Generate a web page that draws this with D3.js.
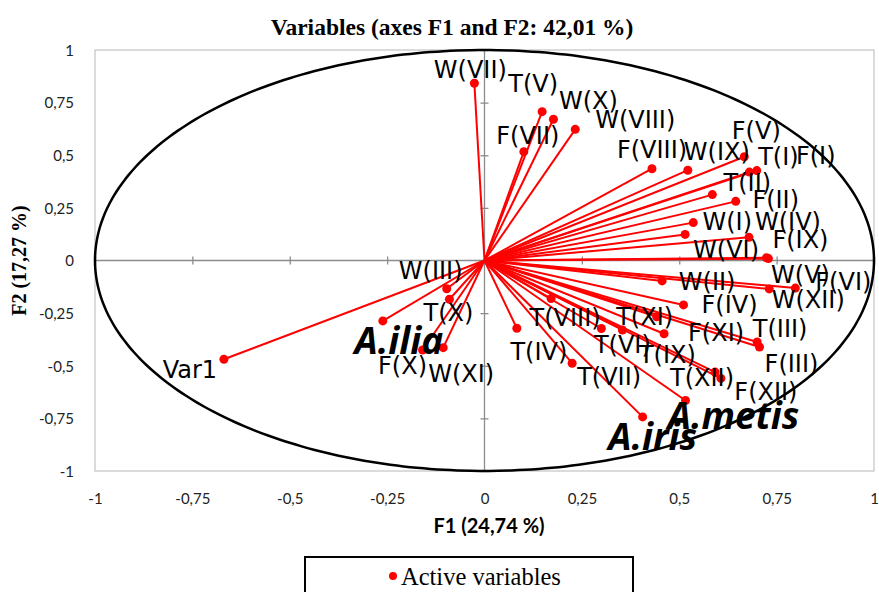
<!DOCTYPE html>
<html>
<head>
<meta charset="utf-8">
<script src="https://cdn.jsdelivr.net/npm/d3@7"></script>
<style>
  body { margin: 0; background: #fff; }
  svg { display: block; }
</style>
</head>
<body>
<svg id="chart" width="879" height="592"></svg>
<script>
// Correlation circle: active variables projected on F1 / F2
const names = [
  "W(VII)", "T(V)", "W(X)", "W(VIII)", "F(VII)", "F(VIII)", "W(IX)", "F(V)", "T(I)", "F(I)",
  "T(II)", "F(II)", "W(I)", "W(VI)", "W(IV)", "F(IX)", "W(V)", "W(II)", "W(XII)", "F(VI)",
  "F(IV)", "T(XI)", "F(XI)", "T(III)", "F(III)", "T(VIII)", "T(VI)", "T(IX)", "T(IV)", "T(VII)",
  "T(XII)", "F(XII)", "A.metis", "A.iris", "W(III)", "T(X)", "A.ilia", "Var1", "F(X)", "W(XI)"
];
const f1 = [
  -0.026, 0.148, 0.177, 0.233, 0.101, 0.430, 0.522, 0.667, 0.680, 0.699,
  0.585, 0.645, 0.536, 0.515, 0.679, 0.729, 0.724, 0.456, 0.731, 0.798,
  0.511, 0.442, 0.461, 0.700, 0.706, 0.171, 0.300, 0.354, 0.083, 0.225,
  0.592, 0.607, 0.516, 0.406, -0.097, -0.090, -0.261, -0.669, -0.159, -0.106
];
const f2 = [
  0.842, 0.707, 0.671, 0.623, 0.517, 0.436, 0.429, 0.493, 0.420, 0.427,
  0.313, 0.281, 0.180, 0.124, 0.110, 0.009, 0.013, -0.097, -0.135, -0.131,
  -0.211, -0.267, -0.348, -0.387, -0.411, -0.181, -0.323, -0.330, -0.322, -0.488,
  -0.530, -0.560, -0.665, -0.743, -0.134, -0.184, -0.287, -0.469, -0.425, -0.414
];
// Species names are set in bold italic
const species = ["A.metis", "A.iris", "A.ilia"];

// Label placement relative to each point (px)
const labelDx = [
  -4, -9, 35, 60, 4, 0, 29, 12, 29, 59,
  35, 40, 34, 41, 39, 32, 34, 45, 39, 48,
  46, -12, 52, 23, 32, 14, 21, 45, 22, 37,
  -13, 45, 48, 10, -16, -1, 16, -34, -20, 18
];
const labelDy = [
  -13, -28, -18, -9, -16, -19, -18, -26, -15, -15,
  -12, -1, -1, 16, -15, -19, 17, 1, 11, -6,
  0, 0, -1, -13, 17, 19, 17, 25, 24, 14,
  6, 14, 14, 19, -18, 14, 19, 11, 16, 26
];

const tickValues = [-1, -0.75, -0.5, -0.25, 0, 0.25, 0.5, 0.75, 1];
const titleText = "Variables (axes F1 and F2: 42,01 %)";
const xTitle = "F1 (24,74 %)";
const yTitle = "F2 (17,27 %)";
const legendText = "Active variables";

const svg = d3.select("#chart");
const plot = { left: 95, right: 874, top: 50, bottom: 471 };

const x = d3.scaleLinear().domain([-1, 1]).range([plot.left, plot.right]);
const y = d3.scaleLinear().domain([-1, 1]).range([plot.bottom, plot.top]);

const locale = d3.formatLocale({ decimal: ",", thousands: " ", grouping: [3], currency: ["", ""], minus: "-" });
const fmt = locale.format("~g");

// Plot frame
svg.append("rect")
  .attr("x", plot.left).attr("y", plot.top)
  .attr("width", plot.right - plot.left).attr("height", plot.bottom - plot.top)
  .attr("fill", "none").attr("stroke", "#c8c8c8").attr("stroke-width", 1.3);

// Tick labels along the frame edges
const xLabels = svg.append("g")
  .attr("transform", `translate(0,${plot.bottom + 19})`)
  .call(d3.axisBottom(x).tickValues(tickValues).tickFormat(fmt).tickSize(0));
xLabels.select(".domain").remove();
xLabels.selectAll("text")
  .attr("font-family", "Lato, sans-serif").attr("font-size", 15).attr("fill", "#222");

const yLabels = svg.append("g")
  .attr("transform", `translate(${plot.left - 18},0)`)
  .call(d3.axisLeft(y).tickValues(tickValues).tickFormat(fmt).tickSize(0));
yLabels.select(".domain").remove();
yLabels.selectAll("text")
  .attr("font-family", "Lato, sans-serif").attr("font-size", 15).attr("fill", "#222")
  .attr("dy", "0.35em");

// Zero axes with crossing tick marks
const axisColor = "#8c8c8c";
const hAxis = svg.append("g")
  .attr("transform", `translate(0,${y(0) - 4})`)
  .call(d3.axisBottom(x).tickValues(tickValues).tickSize(8).tickFormat(""));
hAxis.select(".domain").remove();
hAxis.selectAll("line").attr("stroke", axisColor).attr("stroke-width", 1.3);
svg.append("line")
  .attr("x1", plot.left).attr("x2", plot.right)
  .attr("y1", y(0)).attr("y2", y(0))
  .attr("stroke", axisColor).attr("stroke-width", 1.3);

const vAxis = svg.append("g")
  .attr("transform", `translate(${x(0) + 4},0)`)
  .call(d3.axisLeft(y).tickValues(tickValues).tickSize(8).tickFormat(""));
vAxis.select(".domain").remove();
vAxis.selectAll("line").attr("stroke", axisColor).attr("stroke-width", 1.3);
svg.append("line")
  .attr("x1", x(0)).attr("x2", x(0))
  .attr("y1", plot.top).attr("y2", plot.bottom)
  .attr("stroke", axisColor).attr("stroke-width", 1.3);

// Unit correlation circle
const circlePts = d3.range(0, 360, 2).map(a => [Math.cos(a * Math.PI / 180), Math.sin(a * Math.PI / 180)]);
svg.append("path")
  .datum(circlePts)
  .attr("d", d3.line().x(d => x(d[0])).y(d => y(d[1])).curve(d3.curveCardinalClosed))
  .attr("fill", "none").attr("stroke", "#000").attr("stroke-width", 2.5);

const rows = names.map((n, i) => ({ name: n, f1: f1[i], f2: f2[i], dx: labelDx[i], dy: labelDy[i] }));

// Vectors from the origin
svg.append("g").selectAll("line")
  .data(rows).join("line")
  .attr("x1", x(0)).attr("y1", y(0))
  .attr("x2", d => x(d.f1)).attr("y2", d => y(d.f2))
  .attr("stroke", "#ff0000").attr("stroke-width", 2);

svg.append("g").selectAll("circle")
  .data(rows).join("circle")
  .attr("cx", d => x(d.f1)).attr("cy", d => y(d.f2))
  .attr("r", 4.5).attr("fill", "#ff0000");

// Variable labels
const isSpecies = d => species.includes(d.name);
svg.append("g").selectAll("text")
  .data(rows).join("text")
  .attr("x", d => x(d.f1) + d.dx)
  .attr("y", d => y(d.f2) + d.dy)
  .attr("text-anchor", "middle")
  .attr("dominant-baseline", "central")
  .attr("font-family", d => isSpecies(d) ? "'Open Sans', sans-serif" : "'DejaVu Sans', sans-serif")
  .attr("font-size", d => isSpecies(d) ? 37 : 24)
  .attr("font-weight", d => isSpecies(d) ? "bold" : "normal")
  .attr("font-style", d => isSpecies(d) ? "italic" : "normal")
  .attr("fill", "#000")
  .text(d => d.name);

// Titles
svg.append("text")
  .attr("x", 452).attr("y", 27)
  .attr("text-anchor", "middle").attr("dominant-baseline", "central")
  .attr("font-family", "'Liberation Serif', 'Times New Roman', serif")
  .attr("font-weight", "bold").attr("font-size", 23.5)
  .text(titleText);

svg.append("text")
  .attr("x", 489).attr("y", 525)
  .attr("text-anchor", "middle").attr("dominant-baseline", "central")
  .attr("font-family", "Lato, sans-serif")
  .attr("font-weight", "bold").attr("font-size", 20)
  .text(xTitle);

svg.append("text")
  .attr("transform", `translate(19,${y(0)}) rotate(-90)`)
  .attr("text-anchor", "middle").attr("dominant-baseline", "central")
  .attr("font-family", "'Liberation Serif', 'Times New Roman', serif")
  .attr("font-weight", "bold").attr("font-size", 20)
  .text(yTitle);

// Legend
const legend = svg.append("g");
legend.append("rect")
  .attr("x", 305).attr("y", 557).attr("width", 328).attr("height", 50)
  .attr("fill", "#fff").attr("stroke", "#000").attr("stroke-width", 2);
legend.append("circle")
  .attr("cx", 393).attr("cy", 576).attr("r", 4).attr("fill", "#ff0000");
legend.append("text")
  .attr("x", 401).attr("y", 576)
  .attr("dominant-baseline", "central")
  .attr("font-family", "'Liberation Serif', 'Times New Roman', serif")
  .attr("font-size", 24.5)
  .text(legendText);
</script>
</body>
</html>
